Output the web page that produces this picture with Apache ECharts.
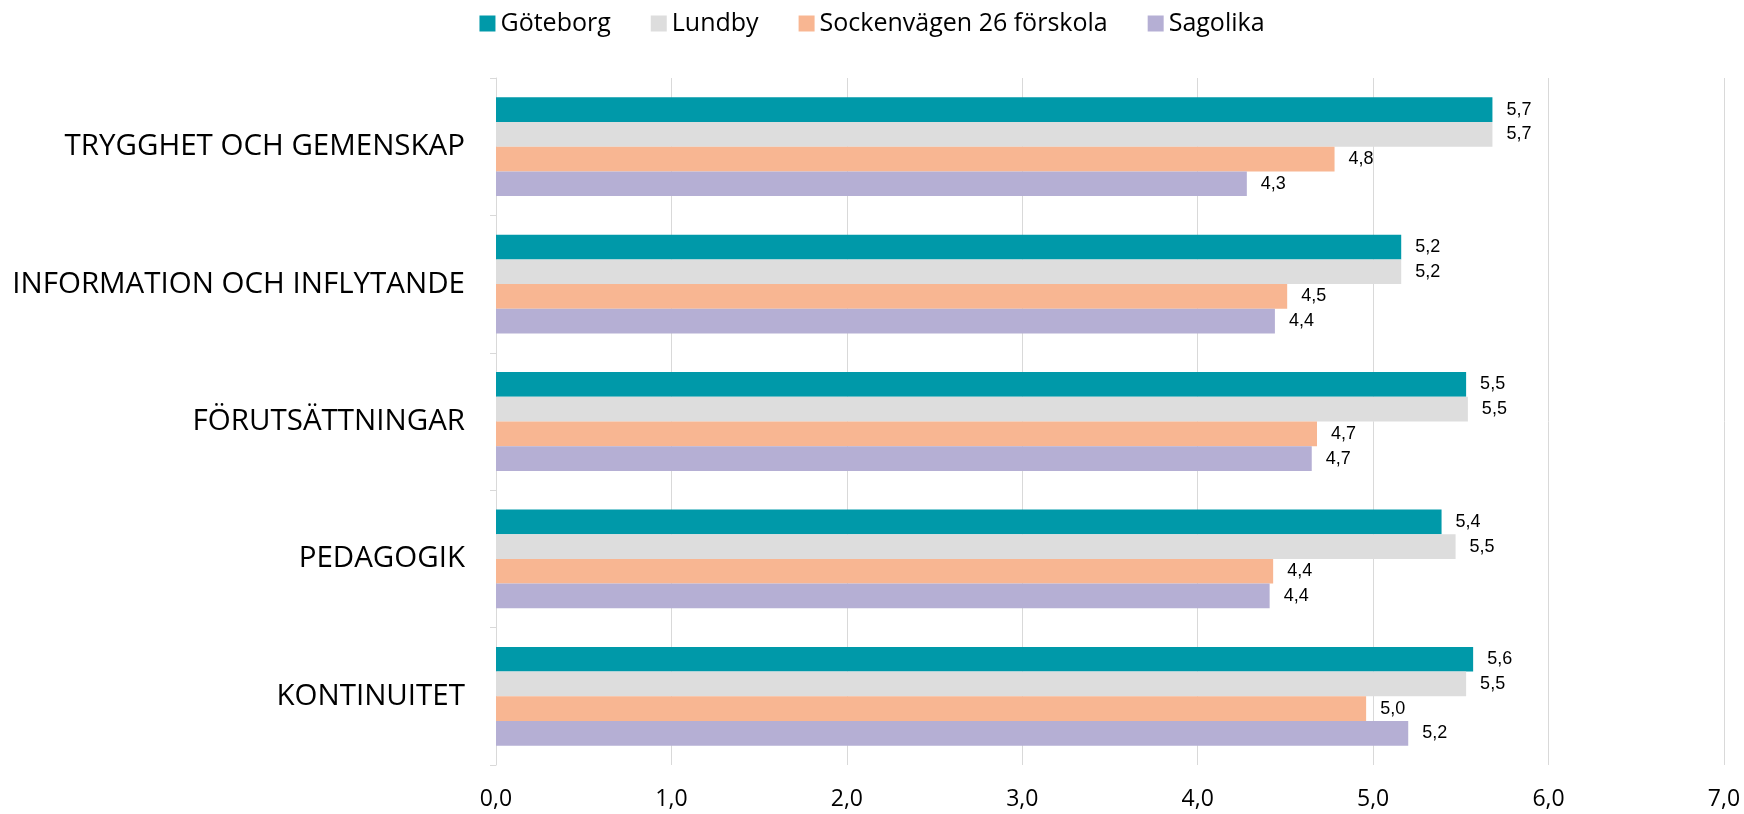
<!DOCTYPE html>
<html>
<head>
<meta charset="utf-8">
<title>Förskoleenkät</title>
<script src="https://cdn.jsdelivr.net/npm/echarts@6/dist/echarts.min.js"></script>
<style>
  html, body { margin: 0; padding: 0; background: #fff; }
  #chart { width: 1744px; height: 814px; }
</style>
</head>
<body>
<div id="chart"></div>
<script>
// kategorier uppifrån och ner
var categories = ['TRYGGHET OCH GEMENSKAP', 'INFORMATION OCH INFLYTANDE', 'FÖRUTSÄTTNINGAR', 'PEDAGOGIK', 'KONTINUITET'];
var seriesNames = ['Göteborg', 'Lundby', 'Sockenvägen 26 förskola', 'Sagolika'];
var goteborg = [5.68, 5.16, 5.53, 5.39, 5.57];
var lundby = [5.68, 5.16, 5.54, 5.47, 5.53];
var sockenvagen = [4.78, 4.51, 4.68, 4.43, 4.96];
var sagolika = [4.28, 4.44, 4.65, 4.41, 5.20];
var colors = ['#0099A9', '#DDDDDD', '#F8B692', '#B5AFD4'];

function komma(v) {
	return v.toFixed(1).replace('.', ',');
}

var chart = echarts.init(document.getElementById('chart'));
var allData = [goteborg, lundby, sockenvagen, sagolika];
var series = allData.map(function (d, i) {
	return {
		name: seriesNames[i],
		type: 'bar',
		data: d,
		barWidth: 24.7,
		barGap: '0%',
		itemStyle: { color: colors[i] },
		label: {
			show: true,
			position: 'right',
			distance: 14,
			color: '#000',
			fontFamily: 'Liberation Sans',
			fontSize: 18,
			formatter: function (p) { return komma(p.value); }
		}
	};
});

chart.setOption({
	animation: false,
	color: colors,
	legend: {
		data: seriesNames,
		top: 6,
		left: 'center',
		itemWidth: 16,
		itemHeight: 16,
		itemGap: 40,
		icon: 'rect',
		textStyle: { fontFamily: 'Open Sans', fontSize: 25, color: '#000' }
	},
	grid: { left: 496, right: 20, top: 78, bottom: 49 },
	xAxis: {
		type: 'value',
		min: 0,
		max: 7,
		interval: 1,
		axisLine: { show: false },
		axisTick: { show: false },
		splitLine: { lineStyle: { color: '#D9D9D9', width: 1 } },
		axisLabel: {
			margin: 23,
			color: '#000',
			fontFamily: 'Open Sans',
			fontSize: 23,
			formatter: function (v) { return komma(v); }
		}
	},
	yAxis: {
		type: 'category',
		data: categories,
		inverse: true,
		axisLine: { lineStyle: { color: '#D9D9D9' } },
		axisTick: { show: true, length: 6, lineStyle: { color: '#D9D9D9' } },
		axisLabel: {
			margin: 31,
			color: '#000',
			fontFamily: 'Open Sans',
			fontSize: 29.5
		}
	},
	series: series
});
</script>
</body>
</html>
